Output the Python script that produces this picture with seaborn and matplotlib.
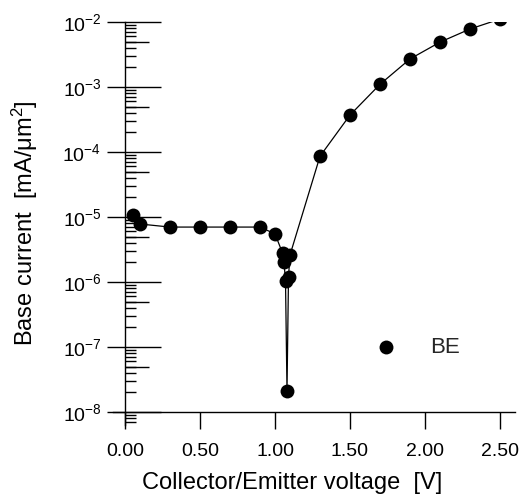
import matplotlib
matplotlib.use("Agg")
import matplotlib.pyplot as plt
import matplotlib.ticker as mticker
import seaborn as sns
import pandas as pd
import numpy as np

voltage = [0.05, 0.10, 0.30, 0.50, 0.70, 0.90, 1.00, 1.05, 1.06, 1.07, 1.08, 1.09, 1.10,
           1.30, 1.50, 1.70, 1.90, 2.10, 2.30, 2.50]
base_current = [1.07e-5, 7.8e-6, 7.0e-6, 7.0e-6, 7.0e-6, 7.0e-6, 5.5e-6, 2.8e-6, 2.0e-6,
                1.05e-6, 2.1e-8, 1.2e-6, 2.6e-6,
                8.6e-5, 3.7e-4, 1.1e-3, 2.7e-3, 4.9e-3, 7.8e-3, 1.11e-2]
series_name = "BE"
x_ticks = [0.0, 0.5, 1.0, 1.5, 2.0, 2.5]

df = pd.DataFrame({"V": voltage, "I": base_current})

sns.set_theme(style="ticks")
plt.rcParams["font.family"] = ["Liberation Sans", "DejaVu Sans"]
plt.rcParams["mathtext.fontset"] = "custom"
plt.rcParams["mathtext.rm"] = "Liberation Sans"
plt.rcParams["mathtext.it"] = "Liberation Sans:italic"
plt.rcParams["mathtext.default"] = "regular"

fig = plt.figure(figsize=(5.24, 5.03), dpi=100)
ax = fig.add_axes([113 / 524, 1 - 425 / 503, 402 / 524, 403 / 503])

ymin, ymax = 10 ** -8.2, 1e-2

sns.lineplot(data=df, x="V", y="I", ax=ax, color="black", lw=0.9,
             estimator=None, sort=False, legend=False)
sns.scatterplot(data=df, x="V", y="I", ax=ax, color="black", s=100,
                edgecolor="black", linewidth=0, label=series_name, zorder=3)

ax.set_yscale("log")
ax.set_xlim(-0.08, 2.6)
ax.set_ylim(ymin, ymax)

for s in ["top", "right"]:
    ax.spines[s].set_visible(False)
ax.spines["left"].set_position(("data", 0.0))
ax.spines["bottom"].set_position(("data", 1e-8))
for s in ["left", "bottom"]:
    ax.spines[s].set_linewidth(1.0)
    ax.spines[s].set_color("black")

ax.set_xticks(x_ticks)
ax.xaxis.set_major_formatter(mticker.FormatStrFormatter("%.2f"))
ax.tick_params(axis="x", direction="out", length=12, width=1, color="black",
               labelsize=14, pad=10, labelcolor="black")

ax.yaxis.set_major_locator(mticker.LogLocator(base=10, numticks=20))
ax.yaxis.set_minor_locator(mticker.LogLocator(base=10, subs=np.arange(2, 10), numticks=20))
ax.yaxis.set_minor_formatter(mticker.NullFormatter())
ax.tick_params(axis="y", which="major", direction="out", length=13, width=1,
               color="black", labelsize=14, pad=4, labelcolor="black")
ax.tick_params(axis="y", which="minor", direction="in", length=8, width=1, color="black")

# inner part of the major ticks (crossing the axis) and longer half-decade ticks
tw = ax.twinx()
tw.set_yscale("log")
tw.set_ylim(ymin, ymax)
for s in ["top", "right", "bottom"]:
    tw.spines[s].set_visible(False)
tw.spines["left"].set_position(("data", 0.0))
tw.spines["left"].set_visible(False)
tw.yaxis.set_ticks_position("left")
tw.yaxis.set_major_locator(mticker.LogLocator(base=10, numticks=20))
tw.yaxis.set_minor_locator(mticker.LogLocator(base=10, subs=[5.0], numticks=20))
tw.yaxis.set_major_formatter(mticker.NullFormatter())
tw.yaxis.set_minor_formatter(mticker.NullFormatter())
tw.tick_params(axis="y", which="major", direction="in", length=26, width=1,
               color="black", labelleft=False, labelright=False)
tw.tick_params(axis="y", which="minor", direction="in", length=17, width=1,
               color="black", labelleft=False, labelright=False)
tw.set_ylabel("")

ax.set_xlabel("Collector/Emitter voltage  [V]", fontsize=17, color="black")
ax.set_ylabel("Base current  [mA/\u03bcm$^2$]", fontsize=17, color="black")
ax.xaxis.set_label_coords(0.445, -0.117)
ax.yaxis.set_label_coords(-0.182, 0.5)

leg = ax.legend(loc="center left", bbox_to_anchor=(0.573, 0.192), frameon=False,
                fontsize=16, handletextpad=1.0, markerscale=1.0)

fig.savefig("out.png", dpi=100)
